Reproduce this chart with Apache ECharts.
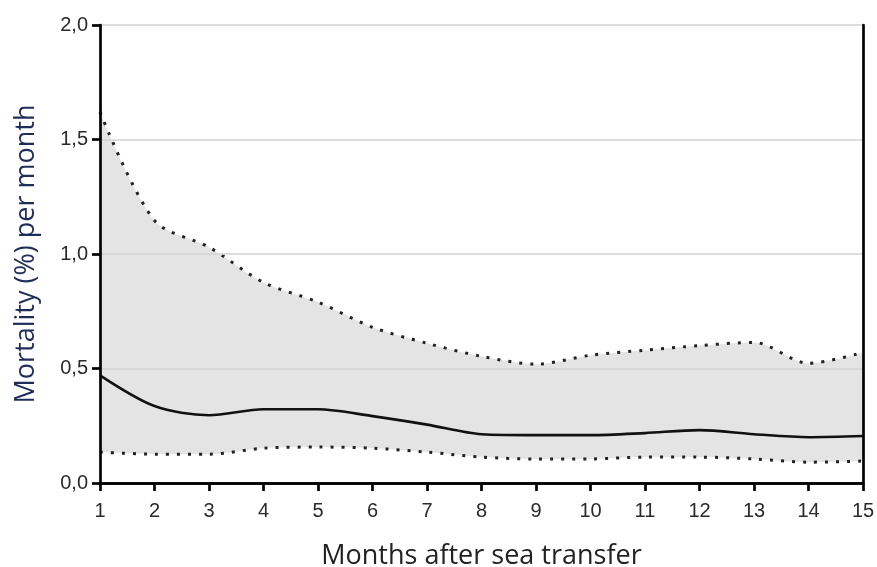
<!DOCTYPE html>
<html><head><meta charset="utf-8">
<script src="https://cdn.jsdelivr.net/npm/echarts@6/dist/echarts.min.js"></script>
<style>html,body{margin:0;padding:0;background:#fff}#c{width:877px;height:567px}</style>
</head><body><div id="c"></div>
<script>
const months = [1,2,3,4,5,6,7,8,9,10,11,12,13,14,15];
const upperCI = [1.62,1.146,1.03,0.876,0.79,0.68,0.61,0.553,0.519,0.558,0.58,0.60,0.614,0.523,0.57];
const meanMort = [0.47,0.336,0.296,0.322,0.322,0.292,0.255,0.213,0.209,0.209,0.218,0.231,0.213,0.2,0.205];
const lowerCI = [0.135,0.126,0.126,0.152,0.157,0.152,0.135,0.113,0.105,0.105,0.113,0.113,0.105,0.091,0.096];
const yTicks = ['0,0','0,5','1,0','1,5','2,0'];

const pair = arr => months.map((m,i)=>[m,arr[i]]);
const lab = {fontFamily:'Liberation Sans',fontSize:20,color:'#2a2a2a'};
const chart = echarts.init(document.getElementById('c'));
chart.setOption({
  animation:false,
  grid:{left:100,right:14,top:25,bottom:84,containLabel:false,outerBoundsMode:'none'},
  xAxis:[{type:'value',min:1,max:15,interval:1,z:10,
    name:'Months after sea transfer',nameLocation:'middle',nameGap:60,
    nameTextStyle:{fontFamily:'Open Sans',fontSize:27,color:'#222'},
    axisLine:{lineStyle:{color:'#000',width:2.7}},
    axisTick:{show:true,length:8,lineStyle:{color:'#000',width:2.7}},
    axisLabel:Object.assign({margin:18},lab),
    splitLine:{show:false}},
   {type:'value',position:'top',min:1,max:15,z:10,
    axisLine:{show:true,lineStyle:{color:'#000',width:2.7}},
    axisTick:{show:false},axisLabel:{show:false},splitLine:{show:false}}],
  yAxis:[{type:'value',min:0,max:2,interval:0.5,z:10,
    name:'Mortality (%) per month',nameLocation:'middle',nameGap:60,
    nameTextStyle:{fontFamily:'Open Sans',fontSize:27,color:'#1f2d5a'},
    axisLine:{show:true,lineStyle:{color:'#000',width:2.7}},
    axisTick:{show:true,length:8,lineStyle:{color:'#000',width:2.7}},
    axisLabel:Object.assign({margin:12,formatter:v=>yTicks[Math.round(v/0.5)]},lab),
    splitLine:{show:true,lineStyle:{color:'#d2d2d2',width:1.5}}},
   {type:'value',position:'right',min:0,max:2,z:10,
    axisLine:{show:true,lineStyle:{color:'#000',width:2.7}},
    axisTick:{show:false},axisLabel:{show:false},splitLine:{show:false}}],
  series:[
    {type:'line',data:pair(upperCI),smooth:0.3,symbol:'none',
      lineStyle:{color:'#222',width:3,type:[3,8]},
      areaStyle:{color:'rgba(0,0,0,0.105)',opacity:1,origin:'start'},z:2},
    {type:'line',data:pair(lowerCI),smooth:0.3,symbol:'none',
      lineStyle:{color:'#222',width:3,type:[3,8]},
      areaStyle:{color:'#fff',opacity:1,origin:'start'},z:3},
    {type:'line',data:pair(meanMort),smooth:0.3,symbol:'none',
      lineStyle:{color:'#111',width:2.6},z:4}
  ]
});
</script></body></html>
